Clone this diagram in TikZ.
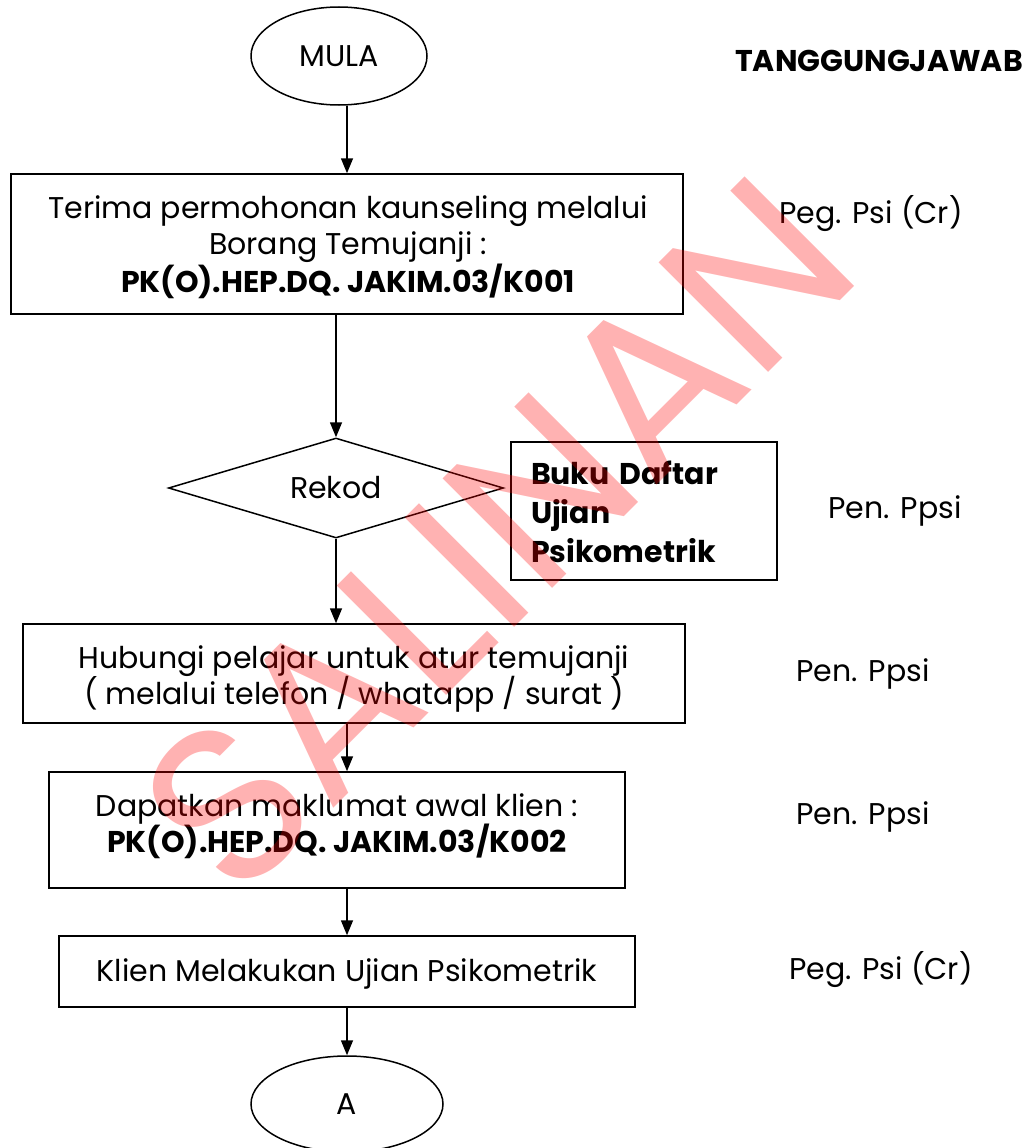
\documentclass[tikz,border=0pt]{standalone}
\usepackage{fontspec}
\setmainfont{Poppins}
\usetikzlibrary{shapes.geometric,arrows.meta}

\tikzset{
  body/.style={font=\fontsize{30}{36.5}\selectfont},
  frame/.style={draw, line width=1.5pt, rectangle, inner sep=0pt},
  terminal/.style={draw, line width=1.5pt, ellipse, inner sep=0pt, body},
  decision/.style={draw, line width=1.5pt, diamond, aspect=3.35, inner sep=0pt, body},
  caption/.style={align=center, inner sep=0pt, body},
  role/.style={body, anchor=center},
  arr/.style={line width=1.5pt, -{Triangle[length=15pt,width=12pt]}},
  stamp/.style={text=red, text opacity=0.3, font=\fontsize{222}{222}\selectfont, inner sep=0pt}
}

\begin{document}
\begin{tikzpicture}[x=1pt, y=-1pt]
  \useasboundingbox (0,0) rectangle (1031,1148);

  % main column: frames
  \node[terminal, minimum width=176pt, minimum height=98pt] (mula) at (339,56) {MULA};
  \node[frame, minimum width=672pt, minimum height=140pt] (terima) at (347,244) {};
  \node[decision, minimum width=335pt, minimum height=100pt] (rekod) at (336,488) {Rekod};
  \node[frame, minimum width=266pt, minimum height=138pt] (buku) at (644,511) {};
  \node[frame, minimum width=662pt, minimum height=99pt] (hubungi) at (354,673.5) {};
  \node[frame, minimum width=576pt, minimum height=116pt] (dapat) at (337,830) {};
  \node[frame, minimum width=576pt, minimum height=71pt] (ujian) at (347,971.5) {};
  \node[terminal, minimum width=192pt, minimum height=96pt] (akhir) at (347,1104) {A};

  % main column: texts
  \node[caption] (terimatxt) at (348,247)
    {Terima permohonan kaunseling melalui\\ Borang Temujanji :\\ \textbf{PK(O).HEP.DQ. JAKIM.03/K001}};
  \node[inner sep=0pt, text width=226pt, align=left, font=\fontsize{30}{39}\selectfont\bfseries]
    (bukutxt) at (644,512) {Buku Daftar\\ Ujian\\ Psikometrik};
  \node[caption] (hubungitxt) at (354,679)
    {Hubungi pelajar untuk atur temujanji\\ ( melalui telefon / whatapp / surat )};
  \node[caption] (dapattxt) at (337,826)
    {Dapatkan maklumat awal klien :\\ \textbf{PK(O).HEP.DQ. JAKIM.03/K002}};
  \node[caption] (ujiantxt) at (347,973.5) {Klien Melakukan Ujian Psikometrik};

  % responsibility column
  \node[font=\fontsize{30}{36}\selectfont\bfseries] (tj) at (879,61) {TANGGUNGJAWAB};
  \node[role] (r1) at (871,214) {Peg. Psi (Cr)};
  \node[role] (r2) at (895,511) {Pen. Ppsi};
  \node[role] (r3) at (863,674) {Pen. Ppsi};
  \node[role] (r4) at (863,817) {Pen. Ppsi};
  \node[role] (r5) at (881,970) {Peg. Psi (Cr)};

  % connectors
  \coordinate (axis) at (347,0);
  \draw[arr] (mula.south -| axis) -- (terima.north -| axis);
  \draw[arr] (terima.south -| rekod.north) -- (rekod.north);
  \draw[arr] (rekod.south) -- (rekod.south |- hubungi.north);
  \draw[arr] (hubungi.south -| axis) -- (dapat.north -| axis);
  \draw[arr] (dapat.south -| axis) -- (ujian.north -| axis);
  \draw[arr] (ujian.south -| axis) -- (akhir.north);

  % overprinted copy stamp
  \node[stamp, rotate=45] (salinan) at (497,535) {SALINAN};
\end{tikzpicture}
\end{document}
